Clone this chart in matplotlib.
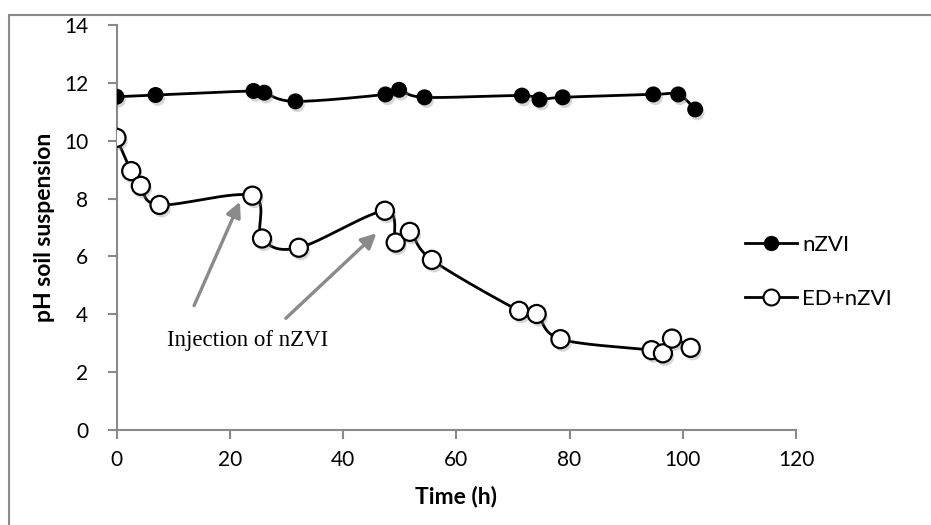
import numpy as np
import matplotlib
matplotlib.use('Agg')
import matplotlib.pyplot as plt
import matplotlib.patheffects as pe
from matplotlib.patches import Rectangle

# time (h) and pH readings
time_nzvi = [0, 6.9, 24.2, 26.1, 31.6, 47.5, 49.9, 54.4, 71.6, 74.7, 78.8, 94.8, 99.2, 102.2]
ph_nzvi = [11.52, 11.58, 11.72, 11.66, 11.36, 11.6, 11.76, 11.5, 11.56, 11.42, 11.5, 11.6, 11.6, 11.08]

time_ed = [0, 2.6, 4.3, 7.6, 24.0, 25.7, 32.2, 47.4, 49.3, 51.8, 55.7,
           71.1, 74.2, 78.4, 94.5, 96.5, 98.1, 101.4]
ph_ed = [10.1, 8.95, 8.44, 7.78, 8.1, 6.62, 6.3, 7.58, 6.48, 6.85, 5.88,
         4.12, 4.01, 3.14, 2.76, 2.65, 3.16, 2.84]

series_labels = ['nZVI', 'ED+nZVI']
note_text = 'Injection of nZVI'
# arrow tail / head positions in data units
arrow_tails = [(13.7, 4.3), (29.9, 3.86)]
arrow_heads = [(21.8, 7.89), (45.9, 6.8)]

GREY = '#8a8a8a'
plt.rcParams['font.family'] = ['Lato', 'DejaVu Sans']


def smooth(x, y, n=30):
    # Excel style smoothed line (Catmull-Rom through the points)
    p = np.column_stack([x, y]).astype(float)
    p = np.vstack([p[0], p, p[-1]])
    out = []
    t = np.linspace(0, 1, n)[:, None]
    for i in range(1, len(p) - 2):
        p0, p1, p2, p3 = p[i - 1], p[i], p[i + 1], p[i + 2]
        b1 = p1 + (p2 - p0) / 6
        b2 = p2 - (p3 - p1) / 6
        seg = ((1 - t) ** 3) * p1 + 3 * ((1 - t) ** 2) * t * b1 + 3 * (1 - t) * t ** 2 * b2 + t ** 3 * p2
        out.append(seg)
    out = np.vstack(out)
    return out[:, 0], out[:, 1]


fig = plt.figure(figsize=(9.31, 5.25), dpi=100)
ax = fig.add_axes([116.5 / 931, 1 - 430 / 525, (796 - 116.5) / 931, (430 - 25) / 525])

shadow = [pe.SimplePatchShadow(offset=(1.5, -2.5), shadow_rgbFace='0.55', alpha=0.35), pe.Normal()]

sx, sy = smooth(time_nzvi, ph_nzvi)
ax.plot(sx, sy, color='black', lw=2, zorder=3)
ax.plot(time_nzvi, ph_nzvi, ls='none', marker='o', ms=10.5, mfc='black', mec='black',
        zorder=4, path_effects=shadow)

sx, sy = smooth(time_ed, ph_ed)
ax.plot(sx, sy, color='black', lw=2, zorder=3)
ax.plot(time_ed, ph_ed, ls='none', marker='o', ms=13, mfc='white', mec='black', mew=1.6,
        zorder=4, path_effects=shadow)

# legend proxies
h1, = ax.plot([], [], color='black', lw=2, marker='o', ms=10, mfc='black', mec='black')
h2, = ax.plot([], [], color='black', lw=2, marker='o', ms=11.5, mfc='white', mec='black', mew=1.5)
ax.legend([h1, h2], series_labels, loc='upper left', bbox_to_anchor=(745 / 931, 1 - 235 / 525),
          bbox_transform=fig.transFigure, frameon=False, fontsize=16, handlelength=2.35,
          handletextpad=0.22, labelspacing=1.52, borderpad=0, borderaxespad=0)

for (tx, ty), (hx, hy) in zip(arrow_tails, arrow_heads):
    ax.annotate('', xy=(hx, hy), xytext=(tx, ty),
                arrowprops=dict(arrowstyle='-|>,head_length=0.9,head_width=0.45',
                                color=GREY, lw=2.4, shrinkA=0, shrinkB=0))
ax.text(8.9, 3.1, note_text, fontsize=16.5, family=['Liberation Serif'], va='center', ha='left')

ax.set_xlim(0, 120)
ax.set_ylim(0, 14)
ax.set_xticks(range(0, 121, 20))
ax.set_yticks(range(0, 15, 2))
for s in ['top', 'right']:
    ax.spines[s].set_visible(False)
for s in ['left', 'bottom']:
    ax.spines[s].set_color(GREY)
    ax.spines[s].set_linewidth(1.5)
ax.tick_params(axis='both', colors=GREY, width=1.5, length=6.5, labelcolor='black', labelsize=15)
ax.tick_params(axis='y', pad=14)
ax.tick_params(axis='x', pad=8)
ax.set_xlabel('Time (h)', fontsize=16.5, fontweight='bold', labelpad=11)
ax.set_ylabel('pH soil suspension', fontsize=16.5, fontweight='bold', labelpad=6)

# chart area border
fig.patches.append(Rectangle((9 / 931, -0.05), 1.1, 1 - 15 / 525 + 0.05, transform=fig.transFigure,
                             fill=False, edgecolor=GREY, lw=1.5))

fig.savefig('out.png', dpi=100)
